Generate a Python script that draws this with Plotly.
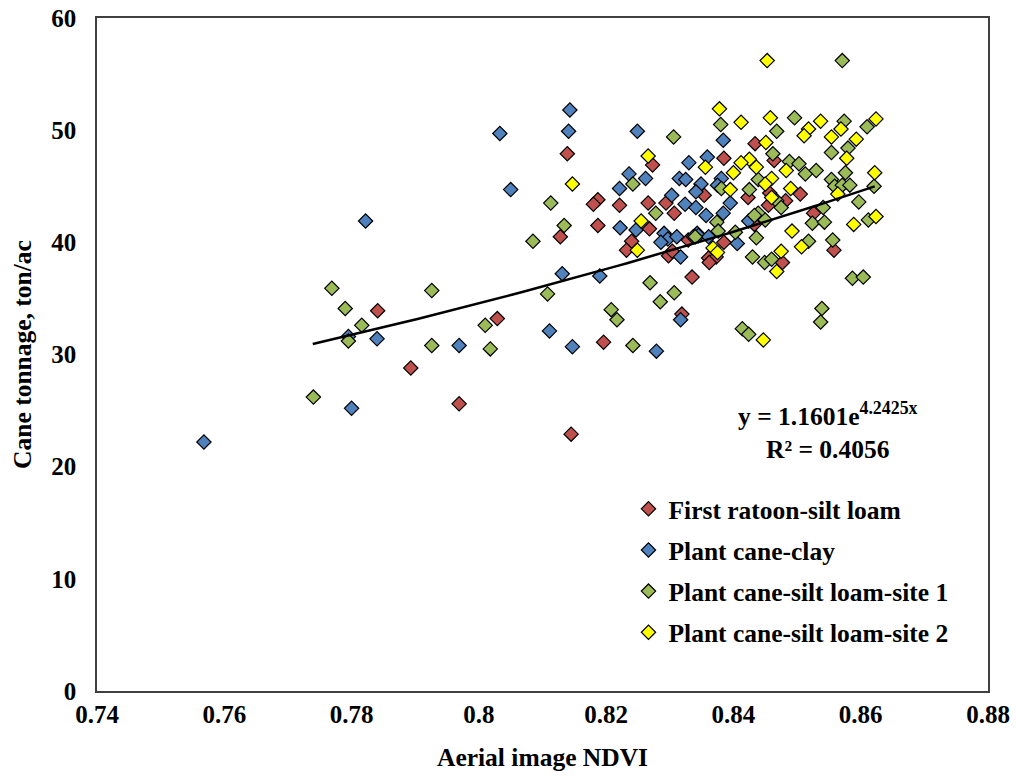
import numpy as np
import plotly.graph_objects as go

# ---- data ----
red_x = [0.7841, 0.7893, 0.7969, 0.8139, 0.8187, 0.8180, 0.8221, 0.8266, 0.8187, 0.8128,
         0.8240, 0.8232, 0.8029, 0.8196, 0.8145, 0.8434, 0.8273, 0.8385, 0.8464, 0.8354,
         0.8423, 0.8457, 0.8482, 0.8505, 0.8294, 0.8455, 0.8307, 0.8526, 0.8268, 0.8433,
         0.8385, 0.8329, 0.8558, 0.8298, 0.8304, 0.8361, 0.8373, 0.8362, 0.8477, 0.8335,
         0.8319]
red_y = [33.9, 28.8, 25.6, 47.9, 43.8, 43.4, 43.3, 43.5, 41.5, 40.5,
         40.1, 39.3, 33.2, 31.1, 22.9, 48.8, 46.9, 47.5, 47.3, 44.2,
         44.0, 44.4, 43.7, 44.3, 43.5, 43.3, 42.6, 42.6, 41.2, 41.6,
         40.0, 40.2, 39.3, 38.8, 39.2, 38.6, 38.7, 38.2, 38.2, 36.9,
         33.6]

blue_x = [0.7822, 0.7795, 0.7840, 0.7969, 0.7800, 0.7568, 0.8143, 0.8033, 0.8141, 0.8249,
          0.8236, 0.8262, 0.8221, 0.8050, 0.8222, 0.8247, 0.8131, 0.8190, 0.8111, 0.8147,
          0.8384, 0.8330, 0.8359, 0.8315, 0.8325, 0.8349, 0.8381, 0.8375, 0.8303, 0.8341,
          0.8324, 0.8341, 0.8395, 0.8357, 0.8384, 0.8424, 0.8291, 0.8297, 0.8311, 0.8286,
          0.8343, 0.8345, 0.8337, 0.8361, 0.8406, 0.8317, 0.8317, 0.8279]
blue_y = [41.9, 31.6, 31.4, 30.8, 25.2, 22.2, 51.8, 49.7, 49.9, 49.9,
          46.1, 45.7, 44.8, 44.7, 41.3, 41.1, 37.2, 37.0, 32.1, 30.7,
          49.1, 47.1, 47.6, 45.7, 45.6, 45.2, 45.7, 45.1, 44.2, 44.5,
          43.4, 43.1, 43.5, 42.4, 42.6, 41.9, 40.8, 40.3, 40.5, 40.0,
          40.8, 40.6, 40.5, 40.5, 39.9, 38.7, 33.1, 30.3]

green_x = [0.7769, 0.7790, 0.7816, 0.7795, 0.7926, 0.7926, 0.7740, 0.8242, 0.8113, 0.8134,
           0.8085, 0.8269, 0.8108, 0.8208, 0.8217, 0.8010, 0.8018, 0.8242, 0.8571, 0.8496,
           0.8574, 0.8380, 0.8468, 0.8610, 0.8306, 0.8554, 0.8580, 0.8462, 0.8488, 0.8503,
           0.8530, 0.8513, 0.8576, 0.8439, 0.8381, 0.8554, 0.8559, 0.8571, 0.8583, 0.8621,
           0.8425, 0.8468, 0.8475, 0.8541, 0.8597, 0.8278, 0.8439, 0.8433, 0.8612, 0.8450,
           0.8374, 0.8524, 0.8543, 0.8376, 0.8403, 0.8436, 0.8518, 0.8556, 0.8430, 0.8449,
           0.8460, 0.8587, 0.8604, 0.8307, 0.8285, 0.8539, 0.8537, 0.8414, 0.8424, 0.8340]
green_y = [35.9, 34.1, 32.6, 31.2, 35.7, 30.8, 26.2, 45.2, 43.5, 41.5,
           40.1, 36.4, 35.4, 34.0, 33.1, 32.6, 30.5, 30.8, 56.2, 51.1,
           50.8, 50.5, 49.9, 50.3, 49.4, 48.0, 48.4, 47.9, 47.2, 47.0,
           46.4, 46.1, 46.2, 45.6, 44.8, 45.6, 45.0, 45.1, 45.1, 45.0,
           44.7, 43.7, 43.1, 43.1, 43.6, 42.6, 42.6, 42.4, 42.0, 42.0,
           41.8, 41.7, 41.8, 41.0, 40.9, 40.4, 40.1, 40.2, 38.7, 38.2,
           38.5, 36.8, 36.9, 35.5, 34.7, 34.1, 32.9, 32.3, 31.8, 40.5]

yellow_x = [0.8266, 0.8147, 0.8255, 0.8249, 0.8453, 0.8378, 0.8412, 0.8458, 0.8537, 0.8624,
            0.8518, 0.8511, 0.8569, 0.8554, 0.8593, 0.8451, 0.8425, 0.8412, 0.8356, 0.8436,
            0.8483, 0.8578, 0.8622, 0.8400, 0.8460, 0.8450, 0.8395, 0.8490, 0.8564, 0.8460,
            0.8624, 0.8589, 0.8492, 0.8368, 0.8375, 0.8507, 0.8475, 0.8468, 0.8447]
yellow_y = [47.7, 45.2, 41.9, 39.3, 56.2, 51.9, 50.7, 51.1, 50.8, 51.0,
            50.1, 49.5, 50.1, 49.4, 49.2, 48.9, 47.4, 47.1, 46.7, 46.7,
            46.4, 47.5, 46.2, 46.2, 45.7, 45.2, 44.7, 44.8, 44.3, 44.0,
            42.3, 41.6, 41.0, 39.5, 39.1, 39.6, 39.2, 37.4, 31.3]

series_names = ["First ratoon-silt loam", "Plant cane-clay",
                "Plant cane-silt loam-site 1", "Plant cane-silt loam-site 2"]
series_colors = ["#C0504D", "#4F81BD", "#9BBB59", "#FFFF00"]

# exponential trendline shown in the chart: y = 1.1601 e^(4.2425x)
trend_a = 1.1601
trend_b = 4.2425
trend_range = [0.7739, 0.8622]

x_ticks = [0.74, 0.76, 0.78, 0.80, 0.82, 0.84, 0.86, 0.88]
x_tick_text = ["0.74", "0.76", "0.78", "0.8", "0.82", "0.84", "0.86", "0.88"]
y_ticks = [0, 10, 20, 30, 40, 50, 60]
y_tick_text = ["0", "10", "20", "30", "40", "50", "60"]

FONT = "Liberation Serif, Times New Roman, serif"
TXT = 25.5
TICK = 25

fig = go.Figure()
all_x = [red_x, blue_x, green_x, yellow_x]
all_y = [red_y, blue_y, green_y, yellow_y]
for i, (xs, ys) in enumerate(zip(all_x, all_y)):
    fig.add_trace(go.Scatter(
        x=xs, y=ys, mode="markers", name=f"<b>{series_names[i]}</b>",
        legendgroup=f"g{i}",
        marker=dict(symbol="diamond", size=11, color=series_colors[i],
                    line=dict(color="black", width=1.2)),
    ))

tx = np.linspace(trend_range[0], trend_range[1], 60)
ty = trend_a * np.exp(trend_b * tx)
fig.add_trace(go.Scatter(x=tx, y=ty, mode="lines", showlegend=False,
                         line=dict(color="black", width=2.5)))

fig.add_annotation(
    x=0.8548, y=26.3, xref="x", yref="y", showarrow=False, align="center",
    text="<b>y = 1.1601e<sup>4.2425x</sup><br>R² = 0.4056</b>",
    font=dict(family=FONT, size=TXT, color="black"),
    xanchor="center", yanchor="top",
)

fig.update_layout(
    width=1016, height=776,
    margin=dict(l=97, r=28, t=18, b=85, autoexpand=False),
    paper_bgcolor="white", plot_bgcolor="white",
    font=dict(family=FONT, size=TXT, color="black"),
    showlegend=True,
    legend=dict(x=0.5965, y=0.305, xanchor="left", yanchor="top",
                bgcolor="rgba(0,0,0,0)", tracegroupgap=5,
                font=dict(family=FONT, size=TXT, color="black"),
                itemwidth=30),
)
fig.update_xaxes(
    range=[0.74, 0.88], tickvals=x_ticks, ticktext=[f"<b>{t}</b>" for t in x_tick_text],
    showline=True, linecolor="#404040", linewidth=1.5, mirror=True,
    showgrid=False, zeroline=False, automargin=False,
    ticks="",
    tickfont=dict(family=FONT, size=TICK, weight=700),
    title=dict(text="<b>Aerial image NDVI</b>", font=dict(family=FONT, size=TXT), standoff=21),
)
fig.update_yaxes(
    range=[0, 60], tickvals=y_ticks, ticktext=[f"<b>{t}</b>" for t in y_tick_text],
    showline=True, linecolor="#404040", linewidth=1.5, mirror=True,
    showgrid=False, zeroline=False, automargin=False,
    ticks="outside", ticklen=14, tickcolor="rgba(0,0,0,0)",
    tickfont=dict(family=FONT, size=TICK, weight=700),
    title=dict(text="<b>Cane tonnage, ton/ac</b>", font=dict(family=FONT, size=TXT), standoff=12),
)

fig.write_html("out.html")
